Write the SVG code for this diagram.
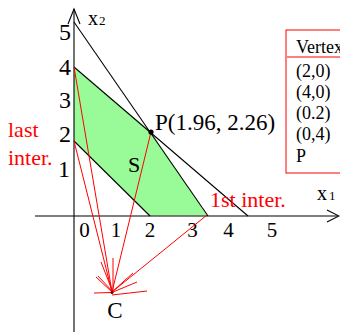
<svg xmlns="http://www.w3.org/2000/svg" width="340" height="332" viewBox="0 0 340 332">
<style>
text{font-family:"Liberation Serif","Times New Roman",serif;}
.k{stroke:#000;stroke-width:1.1;fill:none}
.r{stroke:#f00;stroke-width:1;fill:none}
.lbl{font-size:24px;fill:#000}
.num{font-size:21px;fill:#000;text-anchor:middle}
.red{font-size:22px;fill:#f00}
.tb{font-size:18px;fill:#000}
</style>
<rect width="340" height="332" fill="#fff"/>
<g id="region">
<polygon points="74,67 151,132 207,215.5 150,215.5 74,141" fill="#98fb98"/>
</g>
<g id="axes">
<line class="k" x1="35" y1="216" x2="338" y2="216" stroke-width="1.4"/>
<polyline class="k" points="327,210 339,216 327,222"/>
<line class="k" x1="74" y1="332" x2="74" y2="9" stroke-width="1.4"/>
<polyline class="k" points="68,24 74,9 80,24"/>
<text x="88" y="25" style="font-size:20px">x</text><text x="99" y="25" style="font-size:13px">2</text>
<text x="317" y="200" style="font-size:20px">x</text><text x="329" y="200" style="font-size:13px">1</text>
<g class="lbl" text-anchor="end">
<text x="71" y="40">5</text><text x="71" y="75">4</text><text x="71" y="108">3</text><text x="71" y="142">2</text><text x="70" y="177">1</text>
</g>
<text class="num" x="84.5" y="237">0</text><text class="num" x="116" y="237">1</text><text class="num" x="150" y="237">2</text>
<text class="num" x="192.5" y="237">3</text><text class="num" x="228.5" y="237">4</text><text class="num" x="272" y="237">5</text>
</g>
<g id="constraints">
<line class="k" x1="74" y1="22" x2="208" y2="216"/>
<line class="k" x1="74" y1="67" x2="248" y2="216"/>
<line class="k" x1="74" y1="141" x2="150" y2="216"/>
</g>
<g id="connectors">
<line class="r" x1="74" y1="67" x2="112" y2="292"/>
<line class="r" x1="74" y1="141" x2="112" y2="292"/>
<line class="r" x1="151" y1="132" x2="112" y2="292"/>
<line class="r" x1="207" y1="215" x2="112" y2="292"/>
<line class="r" x1="94" y1="293" x2="112" y2="292.5"/>
<line class="r" x1="147" y1="291" x2="112" y2="295"/>
<line class="r" x1="96" y1="277" x2="112" y2="292"/>
<line class="r" x1="98" y1="276" x2="113" y2="292"/>
<line class="r" x1="113" y1="258" x2="113" y2="291"/>
<line class="r" x1="101" y1="262" x2="112" y2="290"/>
<line class="r" x1="133" y1="273" x2="113" y2="291"/>
<line class="r" x1="137" y1="282" x2="113" y2="292"/>
<circle cx="112" cy="292.5" r="1.5" fill="#600"/>
</g>
<g id="P">
<circle cx="151" cy="132" r="2.6" fill="#000"/>
<text x="155" y="130" style="font-size:23px">P(1.96, 2.26)</text>
</g>
<g id="S"><text x="128" y="172" style="font-size:22px">S</text></g>
<g id="C"><text x="115" y="318" text-anchor="middle" style="font-size:23px">C</text></g>
<g id="last">
<text class="red" x="8" y="137">last</text>
<text class="red" x="8" y="165">inter.</text>
</g>
<g id="first"><text class="red" x="210" y="207">1st inter.</text></g>
<g id="table">
<rect x="286" y="30" width="60" height="143" fill="#fff" stroke="#f00" stroke-width="1"/>
<line x1="287" y1="57" x2="340" y2="57" stroke="#f00" stroke-width="1"/>
<text class="tb" x="296" y="53">Vertex</text>
<text class="tb" x="296" y="77">(2,0)</text>
<text class="tb" x="296" y="98">(4,0)</text>
<text class="tb" x="296" y="119">(0.2)</text>
<text class="tb" x="296" y="140">(0,4)</text>
<text class="tb" x="296" y="162">P</text>
</g>
</svg>
